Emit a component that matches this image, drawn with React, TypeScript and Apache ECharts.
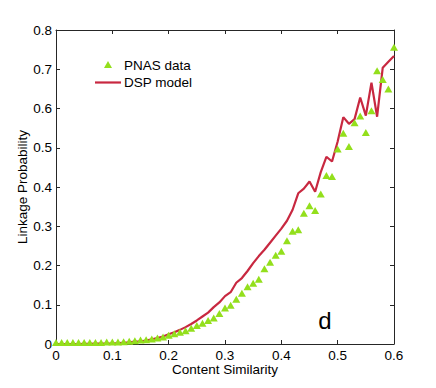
import React, { useEffect, useRef } from "react";
import * as echarts from "echarts";

const similarity = [
  0.0, 0.01, 0.02, 0.03, 0.04, 0.05, 0.06, 0.07, 0.08, 0.09,
  0.1, 0.11, 0.12, 0.13, 0.14, 0.15, 0.16, 0.17, 0.18, 0.19,
  0.2, 0.21, 0.22, 0.23, 0.24, 0.25, 0.26, 0.27, 0.28, 0.29,
  0.3, 0.31, 0.32, 0.33, 0.34, 0.35, 0.36, 0.37, 0.38, 0.39,
  0.4, 0.41, 0.42, 0.43, 0.44, 0.45, 0.46, 0.47, 0.48, 0.49,
  0.5, 0.51, 0.52, 0.53, 0.54, 0.55, 0.56, 0.57, 0.58, 0.59, 0.6,
];

const pnasData = [
  0.004, 0.004, 0.004, 0.004, 0.004, 0.004, 0.004, 0.004, 0.004, 0.005,
  0.005, 0.005, 0.006, 0.007, 0.008, 0.01, 0.011, 0.013, 0.015, 0.018,
  0.022, 0.026, 0.03, 0.034, 0.04, 0.047, 0.053, 0.06, 0.066, 0.078,
  0.092, 0.099, 0.114, 0.129, 0.146, 0.155, 0.165, 0.192, 0.208, 0.226,
  0.236, 0.263, 0.287, 0.291, 0.333, 0.352, 0.34, 0.382, 0.429, 0.427,
  0.497, 0.537, 0.503, 0.564, 0.581, 0.539, 0.594, 0.696, 0.674, 0.65, 0.756,
];

const dspModel = [
  0.0, 0.0, 0.0, 0.0, 0.0, 0.0005, 0.0005, 0.0008, 0.001, 0.001,
  0.0012, 0.002, 0.003, 0.004, 0.006, 0.007, 0.009, 0.012, 0.015, 0.019,
  0.025, 0.03, 0.036, 0.043, 0.051, 0.06, 0.07, 0.08, 0.094, 0.106,
  0.122, 0.132, 0.156, 0.168, 0.186, 0.206, 0.224, 0.24, 0.258, 0.276,
  0.294, 0.314, 0.342, 0.384, 0.396, 0.414, 0.388, 0.438, 0.477, 0.465,
  0.516, 0.578, 0.561, 0.573, 0.628, 0.582, 0.666, 0.579, 0.704, 0.719, 0.734,
];

const xTicks = [0, 0.1, 0.2, 0.3, 0.4, 0.5, 0.6];
const yTicks = [0, 0.1, 0.2, 0.3, 0.4, 0.5, 0.6, 0.7, 0.8];

const GREEN = "#93df1c";
const RED = "#c82840";
const AXIS = "#262626";
const FONT = "'Liberation Sans', Arial, Helvetica, sans-serif";

const fmt = (v: number) => {
  const r = parseFloat(v.toFixed(1));
  return r === 0 ? "0" : String(r);
};

export default function App() {
  const ref = useRef<HTMLDivElement>(null);

  useEffect(() => {
    if (!ref.current) return;
    const chart = echarts.init(ref.current, null, { renderer: "svg" });

    const axisCommon = {
      type: "value" as const,
      axisLine: { show: true, onZero: false, lineStyle: { color: AXIS, width: 1 } },
      axisTick: { show: true, inside: true, length: 4, lineStyle: { color: AXIS } },
      splitLine: { show: false },
    };

    chart.setOption({
      animation: false,
      backgroundColor: "#ffffff",
      textStyle: { fontFamily: FONT },
      grid: { left: 56, right: 42, top: 30, bottom: 44, containLabel: false },
      xAxis: [
        {
          ...axisCommon,
          min: xTicks[0],
          max: xTicks[xTicks.length - 1],
          interval: 0.1,
          position: "bottom",
          name: "Content Similarity",
          nameLocation: "middle",
          nameGap: 18,
          nameMoveOverlap: false,
          nameTextStyle: { color: "#000", fontSize: 13.5, fontFamily: FONT },
          axisLabel: { color: "#000", fontSize: 13.5, margin: 4, fontFamily: FONT, formatter: fmt },
        },
        {
          ...axisCommon,
          min: xTicks[0],
          max: xTicks[xTicks.length - 1],
          interval: 0.1,
          position: "top",
          axisLabel: { show: false },
        },
      ],
      yAxis: [
        {
          ...axisCommon,
          min: yTicks[0],
          max: yTicks[yTicks.length - 1],
          interval: 0.1,
          position: "left",
          name: "Linkage Probability",
          nameLocation: "middle",
          nameGap: 27,
          nameMoveOverlap: false,
          nameTextStyle: { color: "#000", fontSize: 13.5, fontFamily: FONT },
          axisLabel: { color: "#000", fontSize: 13.5, margin: 4, fontFamily: FONT, formatter: fmt },
        },
        {
          ...axisCommon,
          min: yTicks[0],
          max: yTicks[yTicks.length - 1],
          interval: 0.1,
          position: "right",
          axisLabel: { show: false },
        },
      ],
      series: [
        {
          name: "DSP model",
          type: "line",
          data: similarity.map((x, i) => [x, dspModel[i]]),
          showSymbol: false,
          symbol: "none",
          lineStyle: { color: RED, width: 2.2 },
          itemStyle: { color: RED },
          clip: false,
          z: 2,
        },
        {
          name: "PNAS data",
          type: "scatter",
          data: similarity.map((x, i) => [x, pnasData[i]]),
          symbol: "triangle",
          symbolSize: [8, 7],
          itemStyle: { color: GREEN, opacity: 1 },
          clip: false,
          z: 3,
        },
      ],
      graphic: [
        {
          type: "polygon",
          shape: { points: [[104, 68], [112, 68], [108, 61]] },
          style: { fill: GREEN },
        },
        {
          type: "text",
          x: 124,
          y: 65,
          style: { text: "PNAS data", fontSize: 13.5, fontFamily: FONT, fill: "#000", verticalAlign: "middle" },
        },
        {
          type: "line",
          shape: { x1: 95, y1: 82.5, x2: 121, y2: 82.5 },
          style: { stroke: RED, lineWidth: 2.2 },
        },
        {
          type: "text",
          x: 124,
          y: 82.5,
          style: { text: "DSP model", fontSize: 13.5, fontFamily: FONT, fill: "#000", verticalAlign: "middle" },
        },
        {
          type: "text",
          x: 325,
          y: 320,
          style: { text: "d", fontSize: 24, fontFamily: FONT, fill: "#000", align: "center", verticalAlign: "middle" },
        },
      ],
    });

    return () => chart.dispose();
  }, []);

  return (
    <div
      ref={ref}
      style={{ position: "fixed", left: 0, top: 0, width: 436, height: 388, background: "#fff" }}
    />
  );
}
